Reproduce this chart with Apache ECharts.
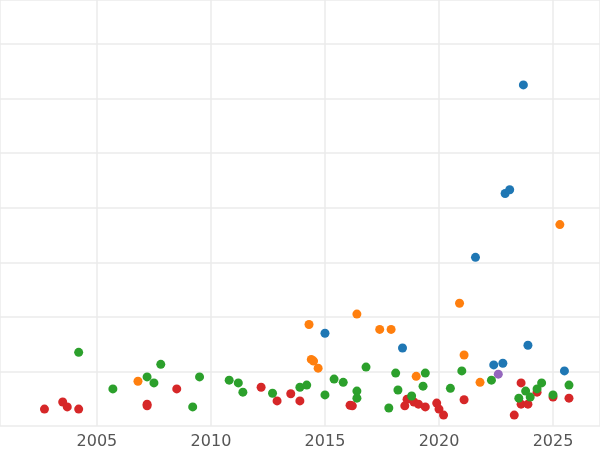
<!DOCTYPE html><html><head><meta charset="utf-8">
<script src="https://cdn.jsdelivr.net/npm/echarts@6/dist/echarts.min.js"></script>
<style>html,body{margin:0;padding:0}#c{width:600px;height:450px}</style></head><body><div id="c"></div>
<script>
const red=[[2002.7,3.1],[2003.5,4.4],[2003.7,3.5],[2004.2,3.1],[2007.2,4.0],[2007.2,3.7],[2008.5,6.8],[2012.2,7.1],[2012.9,4.6],[2013.5,5.9],[2013.9,4.6],[2016.1,3.8],[2016.2,3.7],[2018.5,3.7],[2018.6,4.9],[2018.9,4.4],[2019.1,4.0],[2019.4,3.5],[2019.9,4.2],[2020.0,3.1],[2020.2,2.0],[2021.1,4.8],[2023.3,2.0],[2023.6,7.9],[2023.6,4.0],[2023.9,4.0],[2024.3,6.2],[2025.0,5.3],[2025.7,5.1]];
const green=[[2004.2,13.5],[2005.7,6.8],[2007.2,9.0],[2007.5,7.9],[2007.8,11.3],[2009.2,3.5],[2009.5,9.0],[2010.8,8.4],[2011.2,7.9],[2011.4,6.2],[2012.7,6.0],[2013.9,7.1],[2014.2,7.5],[2015.0,5.7],[2015.4,8.6],[2015.8,8.0],[2016.4,6.4],[2016.4,5.1],[2016.8,10.8],[2017.8,3.3],[2018.1,9.7],[2018.2,6.6],[2018.8,5.5],[2019.3,7.3],[2019.4,9.7],[2020.5,6.9],[2021.0,10.1],[2022.3,8.4],[2023.5,5.1],[2023.8,6.4],[2024.0,5.3],[2024.3,6.8],[2024.5,7.9],[2025.0,5.7],[2025.7,7.5]];
const blue=[[2015.0,17.0],[2018.4,14.3],[2021.6,30.9],[2022.9,42.6],[2023.1,43.3],[2022.4,11.2],[2022.8,11.5],[2023.7,62.5],[2023.9,14.8],[2025.5,10.1]];
const orange=[[2006.8,8.2],[2014.3,18.6],[2014.4,12.2],[2014.5,11.9],[2014.7,10.6],[2016.4,20.5],[2017.4,17.7],[2017.9,17.7],[2019.0,9.1],[2020.9,22.5],[2021.1,13.0],[2021.8,8.0],[2025.3,36.9]];
const purple=[[2022.6,9.5]];
const xTicks=[2005,2010,2015,2020,2025];
const groups=[[red,'#d62728'],[green,'#2ca02c'],[blue,'#1f77b4'],[orange,'#ff7f0e'],[purple,'#9467bd']];
const ch=echarts.init(document.getElementById('c'));
ch.setOption({animation:false,
grid:{left:0,right:0,top:0,bottom:23},
xAxis:{type:'value',min:2000.75,max:2027.06,axisLine:{show:false},axisTick:{show:false},
 axisLabel:{color:'#555',fontSize:16,fontFamily:'DejaVu Sans',customValues:xTicks,formatter:v=>String(v)},
 splitLine:{lineStyle:{color:'#ebebeb',width:1.5}}},
yAxis:{type:'value',min:0,max:78.06,interval:10,axisLabel:{show:false},axisLine:{show:false},axisTick:{show:false},splitLine:{lineStyle:{color:'#ebebeb',width:1.5}}},
series:groups.map(g=>({type:'scatter',data:g[0],symbolSize:9,itemStyle:{color:g[1],opacity:1}}))});
</script></body></html>
